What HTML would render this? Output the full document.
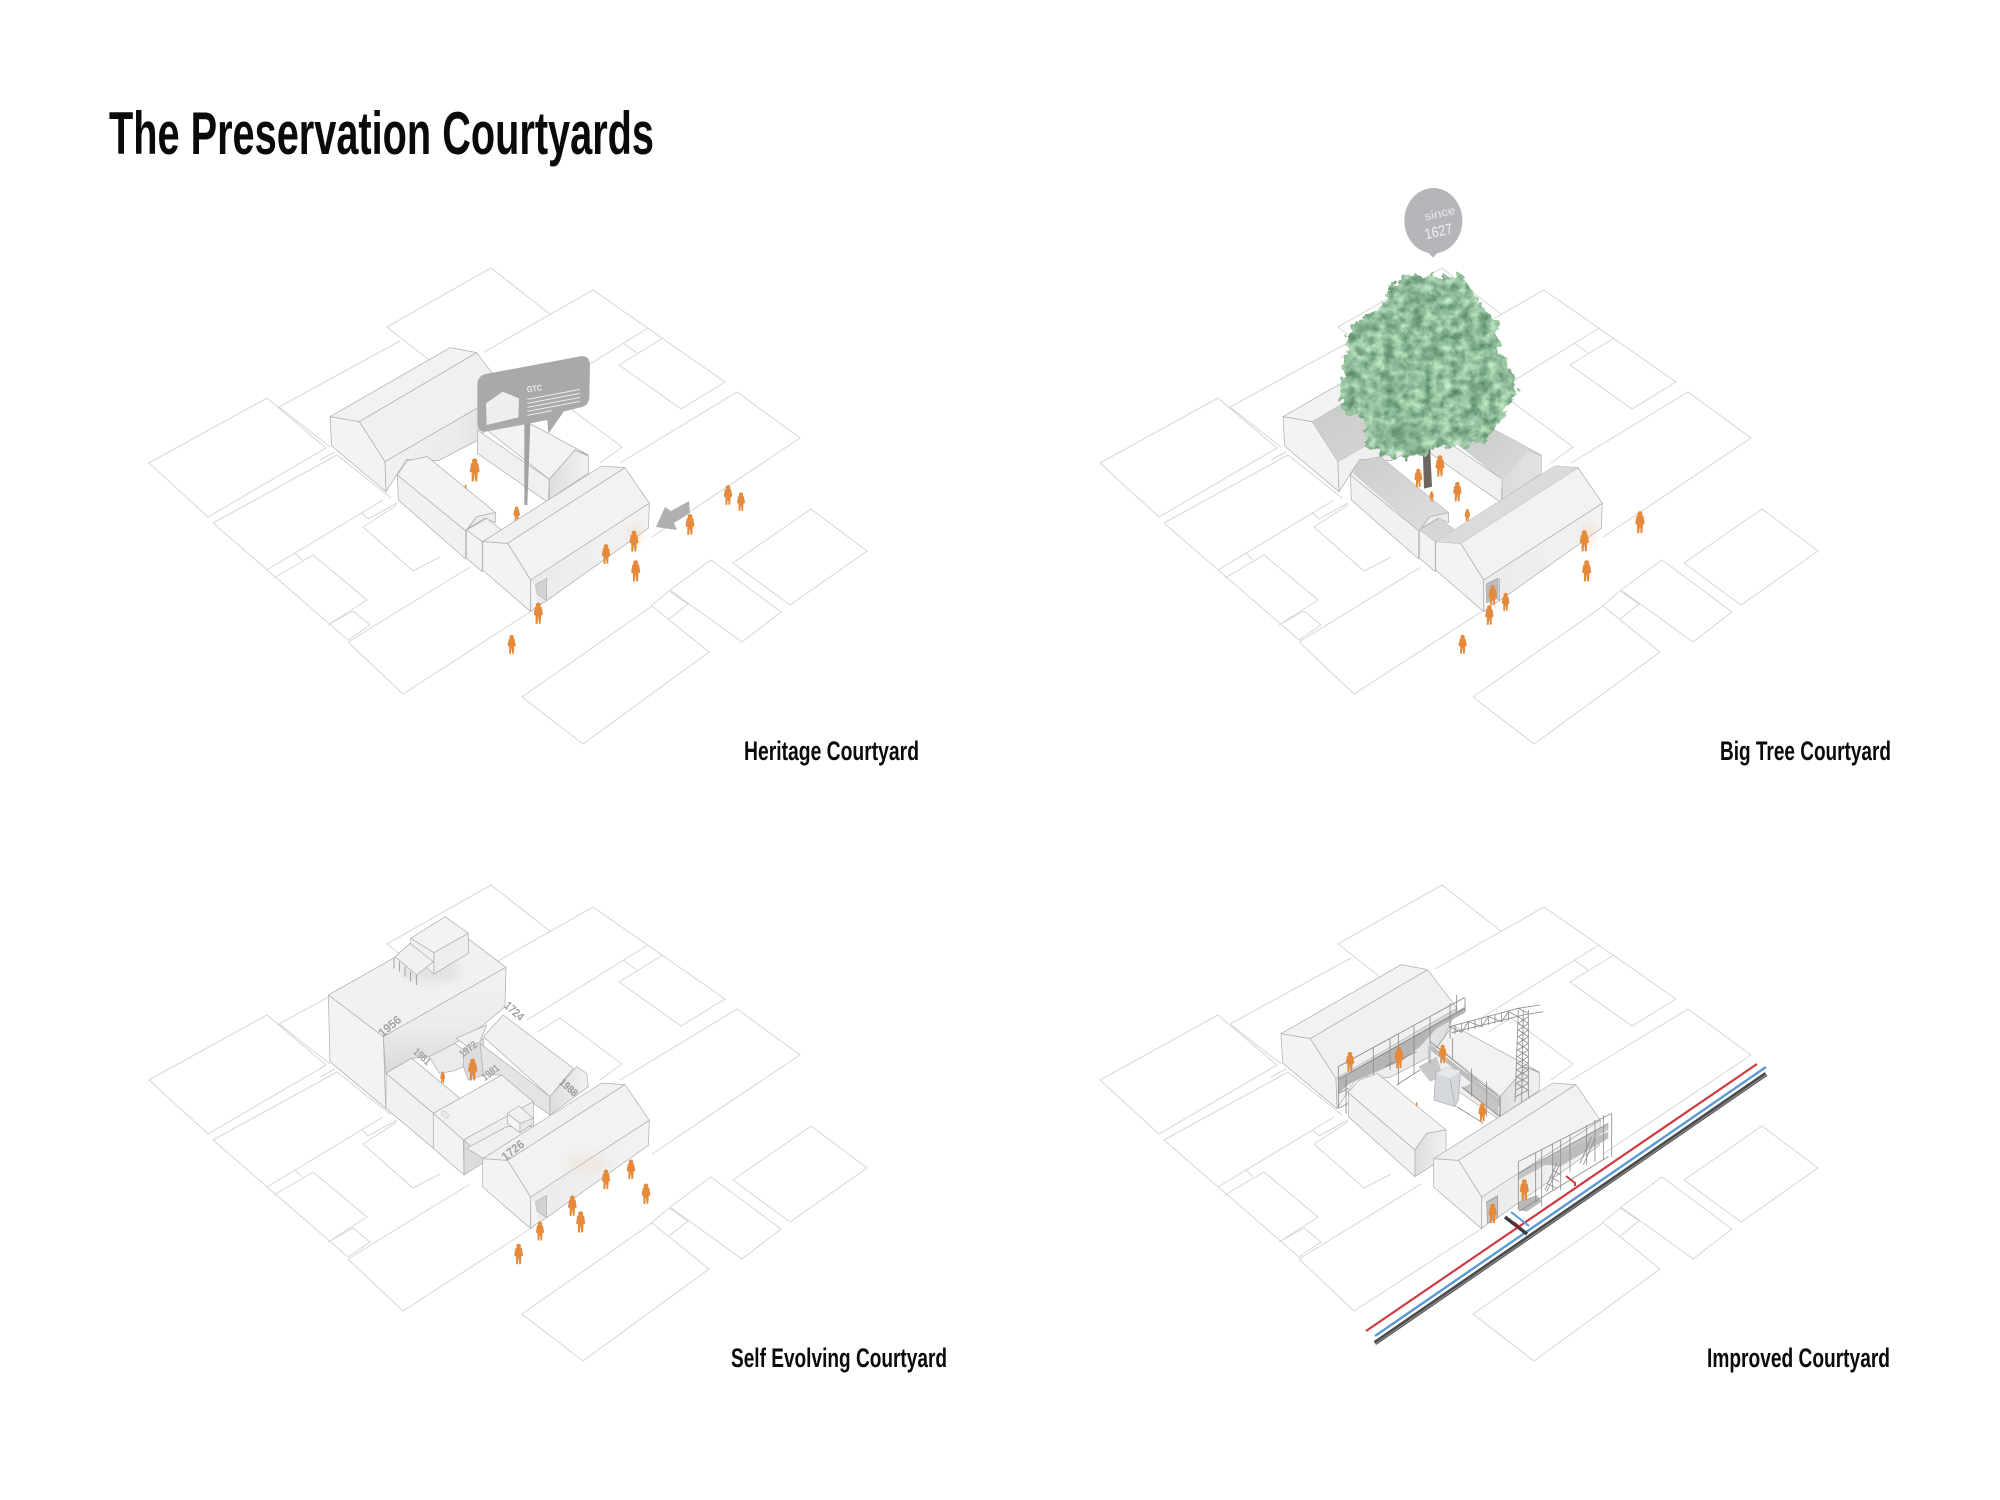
<!DOCTYPE html>
<html lang="en">
<head>
<meta charset="utf-8">
<title>The Preservation Courtyards</title>
<style>
html,body{margin:0;padding:0;background:#fff}
svg{display:block}
text{font-family:"Liberation Sans",sans-serif}
.t{font-weight:bold;fill:#0a0a0a}
.y{font-weight:bold;fill:#a2a2a2;font-size:36px}
.e{stroke:#b0b0b0;stroke-width:2.2;stroke-linejoin:round}
</style>
</head>
<body>
<svg width="2000" height="1500" viewBox="0 0 2000 1500" xmlns="http://www.w3.org/2000/svg">
<defs>
<linearGradient id="w1" x1="0" x2="1" y1="0" y2="0"><stop offset="0" stop-color="#f1f1f1"/><stop offset=".6" stop-color="#ebebeb"/><stop offset="1" stop-color="#d9d9d9"/></linearGradient>
<linearGradient id="w2" x1="0" x2="1" y1="0" y2="0"><stop offset="0" stop-color="#ebebeb"/><stop offset="1" stop-color="#f3f3f3"/></linearGradient>
<linearGradient id="w3" x1="0" x2="1" y1="0" y2="0"><stop offset="0" stop-color="#dedede"/><stop offset="1" stop-color="#f1f1f1"/></linearGradient>
<linearGradient id="w4" x1="0" x2="0" y1="0" y2="1"><stop offset="0" stop-color="#f1f1f1"/><stop offset=".55" stop-color="#ececec"/><stop offset="1" stop-color="#d9d9d9"/></linearGradient>
<linearGradient id="sh" x1="0" x2="1" y1="0" y2="1"><stop offset="0" stop-color="#c4c6c4"/><stop offset="1" stop-color="#dbdbdb"/></linearGradient>
<filter id="blur" x="-50%" y="-50%" width="200%" height="200%"><feGaussianBlur stdDeviation="14"/></filter>
<filter id="leaf" x="-15%" y="-15%" width="130%" height="130%" color-interpolation-filters="sRGB">
<feTurbulence type="fractalNoise" baseFrequency=".04" numOctaves="3" seed="7" result="n"/>
<feDisplacementMap in="SourceGraphic" in2="n" scale="46" xChannelSelector="R" yChannelSelector="G" result="d"/>
<feTurbulence type="fractalNoise" baseFrequency=".035" numOctaves="4" seed="11" result="n2"/>
<feColorMatrix in="n2" type="matrix" values=".62 0 0 0 .26  .55 0 0 0 .47  .55 0 0 0 .33  0 0 0 0 1" result="c"/>
<feComposite in="c" in2="d" operator="in"/>
</filter>

<path id="p" fill="#e5893a" d="M0,-70a8,8 0 1 1-.1,0zM-11,-55Q0,-61 11,-55L15,-30L9,-27L8,-2L2,0L0,-24L-3,0L-9,-1L-9,-27L-15,-30Z"/>

<g id="plots" fill="none" stroke="#d6d6d6" stroke-width="1">
<path d="M429,360L387,327L491,268L551,315M484,352L593,290L725,382L681,409L619,365L663,338M648,328L527,403M623,343L637,353"/>
<path d="M149,463L267,398L326,448L208,517ZM279,407L400,341M279,407L330,447"/>
<path d="M213,523L337,455M213,523L348,640M267,570L383,500M337,455L391,498M320,460L335,452M295,553L302,560"/>
<path d="M274,578L313,555L367,600L328,625M353,611L370,625L348,640M328,625L353,611"/>
<path d="M362,513L368,519M368,519L397,503M363,527L397,505M363,527L413,571L440,557"/>
<path d="M348,642L470,567M348,642L403,694L530,612"/>
<path d="M522,697L652,606L709,652L583,744ZM651,606L669,591L688,604L669,619M670,590L711,560L781,612L742,642Z"/>
<path d="M733,563L811,509L867,551L790,605ZM620,463L737,392L800,438L652,537M537,415L560,401L622,447L600,463"/>
</g>

<g id="b1" class="e">
<polygon fill="#f3f3f3" points="30,230 118,245 195,365 198,455 35,318"/>
<polygon fill="#f2f2f2" points="30,230 390,23 470,38 118,245"/>
<polygon fill="#f0f0f0" points="118,245 470,38 558,154 195,365"/>
<polygon fill="url(#w1)" points="195,365 558,154 520,240 475,300 355,362 260,358 198,455"/>
</g>
<g id="b5" class="e">
<polygon fill="#f0f0f0" points="472,270 688,418 685,488 472,340"/>
<polygon fill="#f2f2f2" points="500,270 545,205 805,345 765,330 688,418"/>
<polygon fill="url(#w3)" points="688,418 765,330 805,348 805,400 688,478"/>
</g>
<g id="b2" class="e">
<polygon fill="#f1f1f1" points="232,405 437,572 437,657 235,480"/>
<polygon fill="#f3f3f3" points="232,405 262,362 322,350 527,518 470,530 437,572"/>
</g>
<g id="b3" class="e">
<polygon fill="#ebebeb" points="445,565 470,530 527,518 527,548 495,535"/>
<polygon fill="#f2f2f2" points="440,570 500,535 545,570 487,605"/>
<polygon fill="#f3f3f3" points="440,570 487,605 487,695 440,655"/>
</g>
<g id="b4">
<g class="e">
<polygon fill="#f3f3f3" points="488,605 563,610 632,720 632,815 488,690"/>
<polygon fill="#f0f0f0" points="488,605 845,378 915,383 563,610"/>
<polygon fill="#f2f2f2" points="563,610 915,383 988,490 632,720"/>
<polygon fill="url(#w2)" points="632,720 988,490 985,565 680,782 650,800 632,815"/>
</g>
<polygon fill="#d2d2d2" stroke="#b4b4b4" stroke-width="2" points="645,735 680,715 680,782 650,762"/>
<polygon fill="#f5f5f5" points="645,735 650,762 652,795 636,810 634,728"/>
</g>
</defs>

<rect width="2000" height="1500" fill="#fff"/>

<!-- Title and captions -->
<text class="t" x="109" y="154" font-size="60" textLength="545" lengthAdjust="spacingAndGlyphs">The Preservation Courtyards</text>
<text class="t" x="744" y="760" font-size="27" textLength="175" lengthAdjust="spacingAndGlyphs">Heritage Courtyard</text>
<text class="t" x="1720" y="760" font-size="27" textLength="171" lengthAdjust="spacingAndGlyphs">Big Tree Courtyard</text>
<text class="t" x="731" y="1367" font-size="27" textLength="216" lengthAdjust="spacingAndGlyphs">Self Evolving Courtyard</text>
<text class="t" x="1707" y="1367" font-size="27" textLength="183" lengthAdjust="spacingAndGlyphs">Improved Courtyard</text>

<!-- Site plots -->
<use href="#plots"/>
<use href="#plots" transform="translate(951 0)"/>
<use href="#plots" transform="translate(0 617)"/>
<use href="#plots" transform="translate(951 617)"/>

<!-- PANEL 1 -->
<polygon points="656,527 665,507 671,511 689,501 690,513 674,523 677,530" fill="#b0b0b0"/>
<g transform="translate(320 340) scale(.33333)">
<use href="#b1"/><use href="#b5"/><use href="#b2"/><use href="#b3"/>
<use href="#p" transform="translate(464 425)"/>
<use href="#p" transform="translate(437 447) scale(.2)"/>
<use href="#p" transform="translate(590 545) scale(.65)"/>
<use href="#b4"/>
<ellipse cx="945" cy="585" rx="22" ry="32" fill="#f0b98a" opacity=".3" filter="url(#blur)"/>
<use href="#p" transform="translate(858 672) scale(.85)"/>
<use href="#p" transform="translate(942 635) scale(.9)"/>
<use href="#p" transform="translate(947 725) scale(.92)"/>
<use href="#p" transform="translate(655 852) scale(.92)"/>
<use href="#p" transform="translate(575 942) scale(.82)"/>
<use href="#p" transform="translate(1110 585) scale(.9)"/>
<use href="#p" transform="translate(1224 495) scale(.85)"/>
<use href="#p" transform="translate(1263 513) scale(.8)"/>
<polygon points="613,250 631,248 622,495 613,495" fill="#a2a2a2"/>
<path fill="#a9a9a9" d="M472,135Q472,108 497,102L780,49Q808,45 810,75L808,172Q806,196 785,201L732,214L685,281L682,240L497,275Q472,276 472,250Z"/>
<polygon fill="#eeeeee" points="498,190 548,155 597,175 595,232 500,255"/>
<g stroke="#ececec" stroke-width="3" fill="none">
<path d="M622,178L780,148M622,190L780,160M622,202L780,172M622,214L780,184M622,226L695,212"/>
</g>
<text x="622" y="158" font-size="26" font-weight="bold" fill="#ececec" transform="rotate(-9 622 158)" textLength="46" lengthAdjust="spacingAndGlyphs">GTC</text>
</g>

<!-- PANEL 2 -->
<g transform="translate(1273 340) scale(.33333)">
<use href="#b1"/>
<polygon points="118,245 470,38 558,154 195,365" fill="url(#sh)"/>
<use href="#b5"/>
<polygon points="500,270 545,205 805,345 765,330 688,418" fill="url(#sh)"/>
<polygon points="688,418 765,330 805,348 805,400 688,478" fill="#dcdcdc" opacity=".7"/>
<use href="#b2"/>
<polygon points="262,362 322,350 527,518 470,530 437,572 240,400" fill="url(#sh)" opacity=".85"/>
<use href="#b3"/>
<polygon points="440,570 500,535 545,570 487,605" fill="#d6d6d6"/>
<use href="#b4"/>
<polygon points="488,605 845,378 915,383 563,610" fill="#dadbda"/>
<ellipse cx="945" cy="585" rx="22" ry="32" fill="#f0b98a" opacity=".3" filter="url(#blur)"/>
</g>
<g transform="translate(1270 180) scale(.33333)">
<polygon points="458,800 480,800 486,920 462,926" fill="#6e6560"/>
<use href="#p" transform="translate(445 922) scale(.8)"/>
<use href="#p" transform="translate(510 890) scale(.92)"/>
<use href="#p" transform="translate(485 965) scale(.45)"/>
<use href="#p" transform="translate(562 965) scale(.85)"/>
<use href="#p" transform="translate(592 1025) scale(.55)"/>
<use href="#p" transform="translate(943 1115) scale(.92)"/>
<use href="#p" transform="translate(950 1205) scale(.92)"/>
<polygon points="648,1212 682,1195 682,1255 650,1268" fill="#bbb" stroke="#aaa" stroke-width="2"/>
<use href="#p" transform="translate(668 1275) scale(.85)"/>
<use href="#p" transform="translate(707 1293) scale(.78)"/>
<use href="#p" transform="translate(658 1335) scale(.85)"/>
<use href="#p" transform="translate(578 1422) scale(.82)"/>
<use href="#p" transform="translate(1110 1060) scale(.95)"/>
<polygon filter="url(#leaf)" fill="#000" points="382,292 470,282 585,288 612,350 680,420 695,520 745,620 705,700 640,790 590,800 520,800 450,830 350,830 290,800 280,720 208,690 218,570 238,440 330,380"/>
<g fill="#4d7a5c" opacity=".35" filter="url(#blur)">
<ellipse cx="440" cy="350" rx="35" ry="18"/>
<ellipse cx="430" cy="420" rx="22" ry="30"/>
<ellipse cx="605" cy="460" rx="28" ry="26"/>
<ellipse cx="490" cy="510" rx="30" ry="28"/>
<ellipse cx="370" cy="620" rx="36" ry="24"/>
<ellipse cx="620" cy="640" rx="30" ry="30"/>
<ellipse cx="400" cy="760" rx="60" ry="30"/>
</g>
<ellipse cx="490" cy="122" rx="87" ry="98" fill="#b5b6ba"/>
<polygon points="472,215 506,215 489,233" fill="#b5b6ba"/>
<text x="466" y="122" font-size="34" fill="#e9e9ea" transform="rotate(-13 466 122)" textLength="94" lengthAdjust="spacingAndGlyphs">since</text>
<text x="468" y="178" font-size="44" fill="#f0f0f0" transform="rotate(-13 468 178)" textLength="84" lengthAdjust="spacingAndGlyphs">1627</text>
</g>

<!-- PANEL 3 -->
<g transform="translate(320 910) scale(.33333)">
<g class="e">
<polygon fill="#f1f1f1" points="25,255 393,47 558,172 190,380"/>
<polygon fill="#f3f3f3" points="25,255 190,380 197,595 30,455"/>
<polygon fill="url(#w4)" points="190,380 558,172 555,290 490,345 405,400 328,440 275,445 197,490"/>
</g>
<ellipse cx="335" cy="185" rx="90" ry="32" fill="#dcdcdc" opacity=".7" filter="url(#blur)"/>
<g stroke="#8d8d8d" stroke-width="2.4"><path d="M222,145V175M238,155V185M255,170V200M272,185V215M289,195V225"/></g>
<g class="e">
<polygon fill="#f1f1f1" points="272,85 342,128 342,192 310,165 272,110"/>
<polygon fill="#f0f0f0" points="225,140 270,100 340,155 290,195"/>
<polygon fill="#f3f3f3" points="272,85 375,20 445,70 342,128"/>
<polygon fill="#eeeeee" points="342,128 445,70 445,130 342,192"/>
</g>
<polygon fill="#ffffff" points="358,490 405,480 445,515 500,510 420,560"/>
<g class="e">
<polygon fill="#ebebeb" points="328,440 405,400 430,420 430,470 405,482 358,490"/>
<polygon fill="#dcdcdc" points="430,420 490,385 490,495 445,510 430,470"/>
<polygon fill="#f0f0f0" points="408,385 500,345 480,395 445,412"/>
<polygon fill="#e4e4e4" points="480,400 690,560 690,615 640,580 545,495 490,495"/>
<polygon fill="#f1f1f1" points="490,380 550,315 760,475 690,560"/>
<polygon fill="url(#w3)" points="690,560 770,470 800,490 805,530 690,615"/>
</g>
<use href="#p" transform="translate(458 512) scale(.95)"/>
<use href="#p" transform="translate(368 520) scale(.5)"/>
<g class="e">
<polygon fill="#f1f1f1" points="198,490 275,445 420,565 340,610"/>
<polygon fill="#f1f1f1" points="198,490 340,610 340,715 198,595"/>
<polygon fill="#f2f2f2" points="340,610 545,495 640,575 430,690"/>
<polygon fill="#eeeeee" points="430,690 640,575 640,650 560,650 440,715"/>
<polygon fill="#f3f3f3" points="340,610 430,690 432,795 340,715"/>
<polygon fill="#dcdcdc" points="432,690 490,745 487,760 432,795"/>
<polygon fill="#f0f0f0" points="440,715 560,650 640,650 490,745"/>
<polygon fill="#f1f1f1" points="562,610 597,588 640,625 600,640"/>
<polygon fill="#f4f4f4" points="562,610 600,640 600,668 562,640"/>
<polygon fill="#e8e8e8" points="600,640 640,625 640,640 600,668"/>
</g>
<text class="y" x="188" y="382" transform="rotate(-40 188 382)" textLength="76" lengthAdjust="spacingAndGlyphs">1956</text>
<text class="y" x="550" y="290" transform="rotate(42 550 290)" textLength="66" lengthAdjust="spacingAndGlyphs">1724</text>
<text class="y" x="278" y="428" style="font-size:32px" transform="rotate(42 278 428)" textLength="58" lengthAdjust="spacingAndGlyphs">1981</text>
<text class="y" x="428" y="444" style="font-size:32px" transform="rotate(-38 428 444)" textLength="58" lengthAdjust="spacingAndGlyphs">1972</text>
<text class="y" x="495" y="514" style="font-size:32px" transform="rotate(-38 495 514)" textLength="58" lengthAdjust="spacingAndGlyphs">1981</text>
<text class="y" x="716" y="520" style="font-size:32px;fill:#999" transform="rotate(42 716 520)" textLength="62" lengthAdjust="spacingAndGlyphs">1988</text>
<text x="360" y="612" font-size="24" fill="#c4c4c4" transform="rotate(40 360 612)">03</text>
</g>
<g transform="translate(320 957) scale(.33333)">
<use href="#b4"/>
<ellipse cx="800" cy="620" rx="70" ry="36" fill="#f3d6bd" opacity=".25" filter="url(#blur)"/>
</g>
<g transform="translate(320 910) scale(.33333)">
<text class="y" x="556" y="754" transform="rotate(-38 556 754)" textLength="76" lengthAdjust="spacingAndGlyphs">1726</text>
<use href="#p" transform="translate(858 838) scale(.85)"/>
<use href="#p" transform="translate(933 808) scale(.85)"/>
<use href="#p" transform="translate(978 882) scale(.88)"/>
<use href="#p" transform="translate(757 918) scale(.88)"/>
<use href="#p" transform="translate(782 968) scale(.92)"/>
<use href="#p" transform="translate(660 992) scale(.82)"/>
<use href="#p" transform="translate(596 1063) scale(.88)"/>
</g>

<!-- PANEL 4 -->
<g transform="translate(1271 957) scale(.33333)">
<use href="#b1"/><use href="#b5"/>
</g>
<g transform="translate(1270 960) scale(.33333)" fill="none">
<!-- crane -->
<g stroke="#8c8c8c" stroke-width="2.5">
<path d="M745,150L735,425M775,150L775,420M760,150L755,425"/>
<path d="M745,170L775,190L745,210L775,230L743,250L775,270L742,290L775,310L740,330L775,350L738,370L775,390L737,410"/>
<path d="M775,170L745,190L775,210L745,230L775,250L743,270L775,290L742,310L775,330L740,350L775,370L738,390"/>
<path d="M538,200L745,145L810,135M545,218L760,165L820,155M745,145L775,160"/>
<path d="M555,195V222M575,190V217M595,185V212M615,180V207M635,175V200M655,170V195M675,165V190M695,160V185M715,155V180"/>
<path d="M538,200L575,217L595,185L635,200L655,170L695,185L715,155L745,170"/>
</g>
<!-- left rear scaffold -->
<polygon fill="#b5b5b5" points="205,355 585,140 585,158 500,205 450,260 400,300 240,370 205,400"/>
<polygon fill="#c8c8c8" points="445,320 500,290 520,350 480,365"/>
<g stroke="#8a8a8a" stroke-width="2.5">
<path d="M205,320L585,112M205,358L585,145M205,320V445M228,345V460M310,262V345M360,235V330M385,222V375M432,198V340M480,172V310M540,130V235M560,105V155M585,115V155"/>
<path d="M205,400L235,385M205,445L235,430M345,320L440,275M380,375L450,330"/>
</g>
<!-- right rear scaffold -->
<polygon fill="#bdbdbd" points="478,250 690,420 690,440 575,345 478,268"/>
<polygon fill="#c5c5c5" points="575,385 610,365 685,430 685,470 650,440"/>
<g stroke="#8a8a8a" stroke-width="2.5">
<path d="M480,245L690,415M575,380L690,470M548,235V295M605,325V410M650,365V470M690,410V470M560,440L640,490"/>
</g>
<polygon fill="#d4d7db" stroke="#a9abae" stroke-width="2" points="492,420 497,340 530,322 572,332 565,420 555,440"/>
<polygon fill="#e6e7e9" points="497,340 530,322 572,332 540,355"/>
<path d="M540,355L555,440" stroke="#a9abae" stroke-width="2"/>
<use href="#p" transform="translate(240 335) scale(.85)"/>
<use href="#p" transform="translate(387 325) scale(.92)"/>
<use href="#p" transform="translate(518 310) scale(.8)"/>
<use href="#p" transform="translate(637 485) scale(.8)"/>
<!-- front-left block, detached -->
<g class="e">
<polygon fill="#f1f1f1" points="235,398 435,570 435,650 235,470"/>
<polygon fill="#f3f3f3" points="235,398 265,362 322,340 528,510 470,520 435,570"/>
<polygon fill="url(#w3)" points="435,570 470,520 528,510 528,590 435,650"/>
</g>
<use href="#p" transform="translate(440 440) scale(.2)"/>
</g>
<g transform="translate(1271 957) scale(.33333)">
<use href="#b4"/>
</g>
<g transform="translate(1270 960) scale(.33333)" fill="none">
<!-- front scaffold -->
<polygon fill="#c4c4c4" points="745,640 1015,490 1015,510 745,660"/>
<polygon fill="#bdbdbd" points="800,610 1015,515 1015,535 870,620"/>
<polygon fill="#b9b9b9" points="745,725 800,705 815,725 770,755 745,750"/>
<g stroke="#8f8f8f" stroke-width="2.5">
<path d="M745,605L1025,460M745,640L1015,490M745,755L1015,590M745,605V755M797,580V725M815,570V740M848,552V690M872,540V690M900,525V635M950,495V615M975,480V605M1000,465V600M1025,460V590"/>
<path d="M825,690L860,610M830,695L868,615M830,670L860,685M838,650L868,665M846,630L872,645M930,610L965,530M940,615L975,535"/>
</g>
<use href="#p" transform="translate(763 722) scale(.92)"/>
<polygon fill="#c4c4c4" stroke="#999" stroke-width="2" points="650,728 682,710 682,775 652,790"/>
<use href="#p" transform="translate(668 790) scale(.85)"/>
<polygon fill="#fff" points="700,775 740,745 785,790 760,815"/>
</g>
<!-- pipes -->
<g fill="none">
<path d="M1366,1331L1757,1064" stroke="#cf3a43" stroke-width="2.2"/>
<path d="M1375,1336L1766,1067" stroke="#5b9bd5" stroke-width="2.4"/>
<path d="M1375,1343L1766,1074" stroke="#4a4a4a" stroke-width="4.5"/>
<path d="M1375,1344L1766,1075" stroke="#8c8c8c" stroke-width="1.2"/>
<path d="M1505,1217L1527,1234" stroke="#3a3a3a" stroke-width="3.500"/>
<path d="M1511,1212L1529,1226" stroke="#5b9bd5" stroke-width="2"/>
<path d="M1566,1176L1575,1183V1186" stroke="#cf3a43" stroke-width="2"/>
<path d="M1514,1223L1520,1228" stroke="#7a2a30" stroke-width="3"/>
</g>
</svg>
</body>
</html>
